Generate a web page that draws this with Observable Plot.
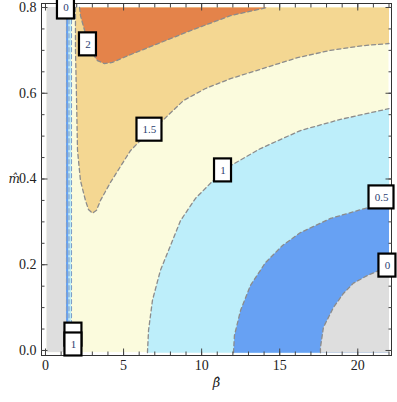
<!DOCTYPE html>
<html><head><meta charset="utf-8">
<script src="https://cdn.jsdelivr.net/npm/d3@7"></script>
<script src="https://cdn.jsdelivr.net/npm/@observablehq/plot@0.6"></script>
<style>body{margin:0;background:#fff;}</style>
</head><body><div id="chart"></div>
<script>
// ---- data ----
const betaRange = [0.1, 22];
const mRange = [-0.005, 0.8];
const levels = [0, 0.5, 1, 1.5, 2];
// band colours: <0, 0-0.5, 0.5-1, 1-1.5, 1.5-2, >2
const bandColors = ["#dedede", "#67a1f3", "#bdeefa", "#fbfbdd", "#f4d792", "#e4834a"];

// contour lines (beta, m)
const contour0 = [[17.61,-0.005],[17.61,0.007],[17.80,0.054],[18.44,0.100],[19.08,0.133],[19.72,0.157],[20.62,0.175],[21.45,0.188],[22,0.194]];
const contour05 = [[12.04,-0.005],[12.10,0.035],[12.49,0.093],[13.13,0.152],[14.09,0.205],[15.18,0.245],[16.33,0.275],[18.25,0.308],[20.62,0.333],[22,0.350]];
const contour1 = [[6.53,-0.005],[6.60,0.047],[6.85,0.117],[7.36,0.187],[8.01,0.245],[8.65,0.303],[9.61,0.355],[10.76,0.397],[11.85,0.431],[13.77,0.471],[16.33,0.513],[18.89,0.539],[22,0.564]];
const contour15 = [[1.92,0.800],[1.92,0.700],[1.99,0.583],[2.05,0.467],[2.24,0.396],[2.56,0.350],[2.75,0.329],[3.01,0.320],[3.27,0.327],[3.52,0.350],[4.16,0.392],[4.80,0.429],[5.44,0.466],[5.89,0.483],[7.49,0.536],[8.84,0.583],[10.25,0.611],[11.85,0.634],[13.96,0.658],[16.14,0.683],[18.25,0.700],[20.36,0.711],[22,0.716]];
const contour2 = [[2.18,0.800],[2.24,0.781],[2.56,0.739],[3.01,0.693],[3.33,0.676],[3.78,0.669],[4.29,0.672],[5.44,0.690],[7.36,0.718],[9.29,0.746],[11.85,0.781],[14.22,0.800]];
// narrow vertical strip near small beta: contour levels 0, 0.5, 1
const stripBeta = [1.345, 1.505, 1.665];

// contour labels
const labelText = ["0", "2", "1.5", "1", "0.5", "0", "", "1"];
const labelBeta = [1.31, 2.72, 6.66, 11.37, 21.52, 21.90, 1.79, 1.79];
const labelM    = [0.800, 0.714, 0.515, 0.420, 0.357, 0.198, 0.037, 0.014];

const xMajor = [0, 5, 10, 15, 20];
const xMinor = d3.range(0, 23);
const yMajor = [0, 0.2, 0.4, 0.6, 0.8];
const yMinor = d3.range(0, 17).map(i => i * 0.05);

// ---- build tables ----
const pts = a => a.map(([b, m]) => ({b, m}));
const [b0, b1] = betaRange, [m0, m1] = mRange;
const regLightOrange = pts([...contour15, [b1, m1]]);
const regOrange = pts(contour2);
const regLightBlue = pts([...contour1, [b1, m0]]);
const regBlue = pts([...contour05, [b1, m0]]);
const regGray = pts([...contour0, [b1, m0]]);
const stripRects = [
  {x1: b0, x2: stripBeta[0], c: bandColors[0]},
  {x1: stripBeta[0], x2: stripBeta[1], c: bandColors[1]},
  {x1: stripBeta[1], x2: stripBeta[2], c: bandColors[2]}
];
const labels = labelText.map((t, i) => ({t, b: labelBeta[i], m: labelM[i]}));
const narrow = labels.filter(d => d.t.length <= 1);
const wide = labels.filter(d => d.t.length > 1);
const lines = [contour0, contour05, contour1, contour15, contour2].map(pts);
const stripLines = stripBeta.flatMap((b, i) => [{b, m: m0, k: i}, {b, m: m1, k: i}]);

const dash = {stroke: "#8c8c8c", strokeWidth: 1.3, strokeDasharray: "4,3"};
const stripDash = {stroke: "#7f9fc8", strokeWidth: 1.1, strokeDasharray: "4,3"};
const boxOpts = (hw) => ({x1: "b", x2: "b", y1: "m", y2: "m", fill: "white", stroke: "black", strokeWidth: 2.2,
  insetLeft: -hw, insetRight: -hw, insetTop: -11.5, insetBottom: -11.5});
const tickCol = "#444";

const chart = Plot.plot({
  width: 397, height: 402,
  marginLeft: 41, marginRight: 6, marginTop: 3, marginBottom: 47,
  x: {domain: [-0.256, 22.16]},
  y: {domain: [-0.0117, 0.8093]},
  style: {fontFamily: "Liberation Serif", fontSize: "13px", color: "#333", background: "white"},
  marks: [
    Plot.rect([0], {x1: b0, x2: b1, y1: m0, y2: m1, fill: bandColors[3]}),
    Plot.line(regLightOrange, {x: "b", y: "m", fill: bandColors[4], stroke: "none"}),
    Plot.line(regOrange, {x: "b", y: "m", fill: bandColors[5], stroke: "none"}),
    Plot.line(regLightBlue, {x: "b", y: "m", fill: bandColors[2], stroke: "none"}),
    Plot.line(regBlue, {x: "b", y: "m", fill: bandColors[1], stroke: "none"}),
    Plot.line(regGray, {x: "b", y: "m", fill: bandColors[0], stroke: "none"}),
    Plot.rect(stripRects, {x1: "x1", x2: "x2", y1: m0, y2: m1, fill: "c"}),
    ...lines.map(l => Plot.line(l, {x: "b", y: "m", ...dash})),
    Plot.line(stripLines, {x: "b", y: "m", z: "k", ...stripDash}),
    Plot.frame({stroke: "#333", strokeWidth: 1}),
    Plot.axisX(xMinor, {anchor: "bottom", tickSize: -3.5, tickFormat: () => "", label: null, stroke: tickCol}),
    Plot.axisX(xMajor, {anchor: "bottom", tickSize: -6.5, tickFormat: () => "", label: null, stroke: tickCol}),
    Plot.axisX(xMinor, {anchor: "top", tickSize: -3.5, tickFormat: () => "", label: null, stroke: tickCol}),
    Plot.axisX(xMajor, {anchor: "top", tickSize: -6.5, tickFormat: () => "", label: null, stroke: tickCol}),
    Plot.axisY(yMinor, {anchor: "left", tickSize: -3.5, tickFormat: () => "", label: null, stroke: tickCol}),
    Plot.axisY(yMajor, {anchor: "left", tickSize: -6.5, tickFormat: () => "", label: null, stroke: tickCol}),
    Plot.axisY(yMinor, {anchor: "right", tickSize: -3.5, tickFormat: () => "", label: null, stroke: tickCol}),
    Plot.axisY(yMajor, {anchor: "right", tickSize: -6.5, tickFormat: () => "", label: null, stroke: tickCol}),
    Plot.axisX(xMajor, {anchor: "bottom", tickSize: 0, tickPadding: 5, label: null, fontSize: 14, fill: "#222"}),
    Plot.axisY(yMajor, {anchor: "left", tickSize: 0, tickPadding: 5, label: null, fontSize: 14, fill: "#222", tickFormat: d3.format(".1f")}),
    Plot.text(["\u03B2\u0302"], {text: d => d, frameAnchor: "bottom", dy: 31, fontStyle: "italic", fontFamily: "DejaVu Serif", fontSize: 13, fill: "#222"}),
    Plot.text(["m\u0302"], {text: d => d, frameAnchor: "left", dx: -33, fontStyle: "italic", fontFamily: "DejaVu Serif", fontSize: 12, fill: "#222"}),
    Plot.rect(narrow, boxOpts(8.5)),
    Plot.rect(wide, boxOpts(12.5)),
    Plot.text(labels, {x: "b", y: "m", text: "t", fontSize: 11, fill: "#2b3d70"})
  ]
});
document.getElementById("chart").appendChild(chart);
</script>
</body></html>
